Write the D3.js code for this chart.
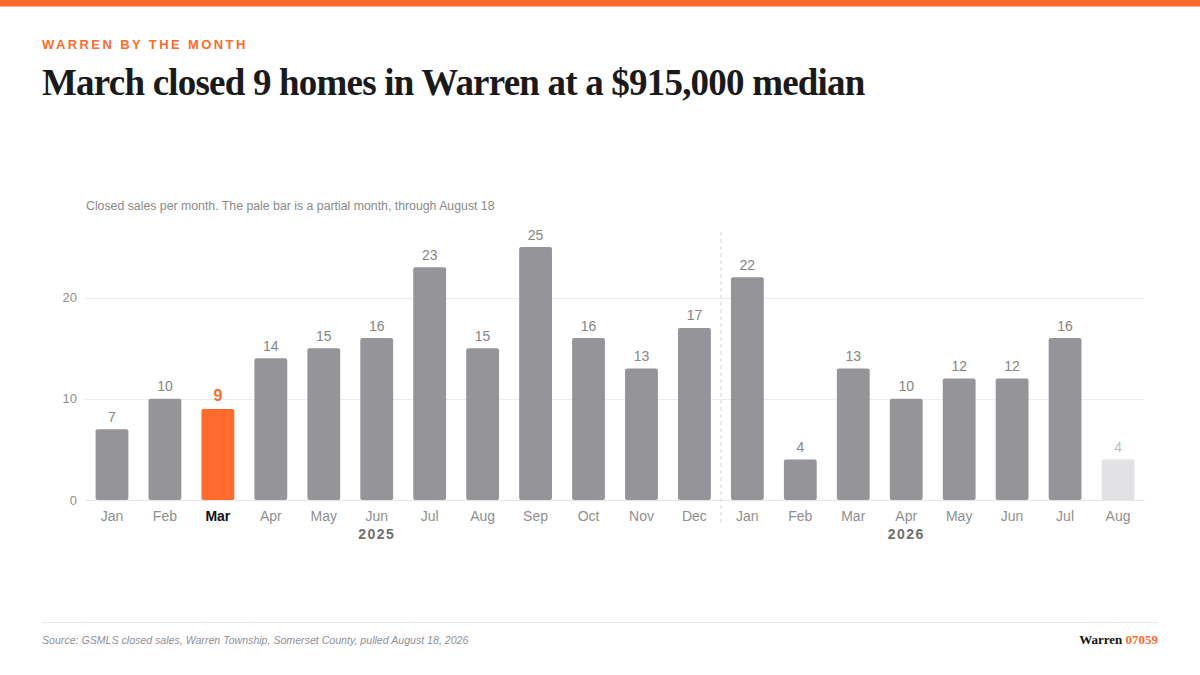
<!DOCTYPE html>
<html>
<head>
<meta charset="utf-8">
<script src="https://cdn.jsdelivr.net/npm/d3@7/dist/d3.min.js"></script>
<style>
  body { margin: 0; background: #fff; }
  svg { display: block; }
</style>
</head>
<body>
<div id="wrapper"></div>
<script>
// data
const months = ["Jan", "Feb", "Mar", "Apr", "May", "Jun", "Jul", "Aug", "Sep", "Oct", "Nov", "Dec",
  "Jan", "Feb", "Mar", "Apr", "May", "Jun", "Jul", "Aug"]
const years = [2025, 2025, 2025, 2025, 2025, 2025, 2025, 2025, 2025, 2025, 2025, 2025,
  2026, 2026, 2026, 2026, 2026, 2026, 2026, 2026]
const sales = [7, 10, 9, 14, 15, 16, 23, 15, 25, 16, 13, 17, 22, 4, 13, 10, 12, 12, 16, 4]
const highlightIndex = 2
const partialIndex = 19
const yTicks = [0, 10, 20]

const dataset = months.map((m, i) => ({ i, month: m, year: years[i], value: sales[i] }))

const orange = "#ff6b2c"
const width = 1200
const height = 675

const wrapper = d3.select("#wrapper")
  .append("svg")
    .attr("width", width)
    .attr("height", height)

// header
wrapper.append("rect")
  .attr("width", width).attr("height", 6.5).attr("fill", orange)

wrapper.append("text")
  .attr("x", 42).attr("y", 49)
  .attr("fill", orange)
  .style("font", "600 13px 'Liberation Sans', Arial, sans-serif")
  .style("letter-spacing", "2.4px")
  .text("WARREN BY THE MONTH")

wrapper.append("text")
  .attr("x", 42).attr("y", 95)
  .attr("fill", "#1a1a1a")
  .style("font", "bold 37px 'Liberation Serif', 'Times New Roman', serif")
  .style("letter-spacing", "-0.8px")
  .text("March closed 9 homes in Warren at a $915,000 median")

wrapper.append("text")
  .attr("x", 86).attr("y", 210)
  .attr("fill", "#8a8a8a")
  .style("font", "12.3px 'Liberation Sans', Arial, sans-serif")
  .text("Closed sales per month. The pale bar is a partial month, through August 18")

// scales
const plot = { left: 85.5, right: 1144.5, top: 247, bottom: 500 }

const xScale = d3.scaleBand()
  .domain(dataset.map(d => d.i))
  .range([plot.left, plot.right])
  .paddingInner(0.38)
  .paddingOuter(0.19)

const yScale = d3.scaleLinear()
  .domain([0, 25])
  .range([plot.bottom, plot.top])

// gridlines
const grid = wrapper.append("g")
grid.selectAll("line")
  .data(yTicks)
  .enter().append("line")
    .attr("x1", plot.left).attr("x2", plot.right)
    .attr("y1", d => Math.round(yScale(d)) + 0.5).attr("y2", d => Math.round(yScale(d)) + 0.5)
    .attr("stroke", d => d === 0 ? "#e6e6e6" : "#ececec")
    .attr("stroke-width", 1)

grid.selectAll("text")
  .data(yTicks)
  .enter().append("text")
    .attr("x", 77).attr("y", d => yScale(d) + 4.5)
    .attr("text-anchor", "end")
    .attr("fill", "#8f8f8f")
    .style("font", "13px 'Liberation Sans', Arial, sans-serif")
    .text(d => d)

// year divider
const divX = (xScale(11) + xScale.bandwidth() + xScale(12)) / 2
wrapper.append("line")
  .attr("x1", divX).attr("x2", divX)
  .attr("y1", 232).attr("y2", 524)
  .attr("stroke", "#d8d8d8")
  .attr("stroke-dasharray", "4 3")

// bars
const barColor = d => d.i === highlightIndex ? orange : d.i === partialIndex ? "#e2e2e4" : "#959498"

wrapper.append("g").selectAll("rect")
  .data(dataset)
  .enter().append("rect")
    .attr("x", d => xScale(d.i))
    .attr("y", d => yScale(d.value))
    .attr("width", xScale.bandwidth())
    .attr("height", d => yScale(0) - yScale(d.value))
    .attr("rx", 2)
    .attr("fill", barColor)

// value labels
wrapper.append("g").selectAll("text")
  .data(dataset)
  .enter().append("text")
    .attr("x", d => xScale(d.i) + xScale.bandwidth() / 2)
    .attr("y", d => yScale(d.value) - 7.5)
    .attr("text-anchor", "middle")
    .attr("fill", d => d.i === highlightIndex ? orange : d.i === partialIndex ? "#bdbdbd" : "#858585")
    .style("font", d => d.i === highlightIndex
      ? "bold 16px 'Liberation Sans', Arial, sans-serif"
      : "14px 'Liberation Sans', Arial, sans-serif")
    .text(d => d.value)

// month labels
wrapper.append("g").selectAll("text")
  .data(dataset)
  .enter().append("text")
    .attr("x", d => xScale(d.i) + xScale.bandwidth() / 2)
    .attr("y", 521)
    .attr("text-anchor", "middle")
    .attr("fill", d => d.i === highlightIndex ? "#111" : "#8f8f8f")
    .style("font", d => d.i === highlightIndex
      ? "bold 14px 'Liberation Sans', Arial, sans-serif"
      : "14px 'Liberation Sans', Arial, sans-serif")
    .text(d => d.month)

// year labels, centred on the middle month of each year
const yearGroups = d3.groups(dataset, d => d.year)
wrapper.append("g").selectAll("text")
  .data(yearGroups)
  .enter().append("text")
    .attr("x", ([, ms]) => {
      const mid = ms[Math.floor((ms.length - 1) / 2)]
      return xScale(mid.i) + xScale.bandwidth() / 2
    })
    .attr("y", 539)
    .attr("text-anchor", "middle")
    .attr("fill", "#6e6e6e")
    .style("font", "bold 14px 'Liberation Sans', Arial, sans-serif")
    .style("letter-spacing", "1.5px")
    .text(([y]) => y)

// footer
wrapper.append("line")
  .attr("x1", 42).attr("x2", 1158)
  .attr("y1", 622.5).attr("y2", 622.5)
  .attr("stroke", "#e6e6e6")

wrapper.append("text")
  .attr("x", 42).attr("y", 644)
  .attr("fill", "#8f8f99")
  .style("font", "italic 10.6px 'Liberation Sans', Arial, sans-serif")
  .text("Source: GSMLS closed sales, Warren Township, Somerset County, pulled August 18, 2026")

const brand = wrapper.append("text")
  .attr("x", 1158).attr("y", 644)
  .attr("text-anchor", "end")
  .style("font", "bold 13px 'Liberation Serif', 'Times New Roman', serif")
brand.append("tspan").attr("fill", "#111").text("Warren ")
brand.append("tspan").attr("fill", orange).text("07059")
</script>
</body>
</html>
